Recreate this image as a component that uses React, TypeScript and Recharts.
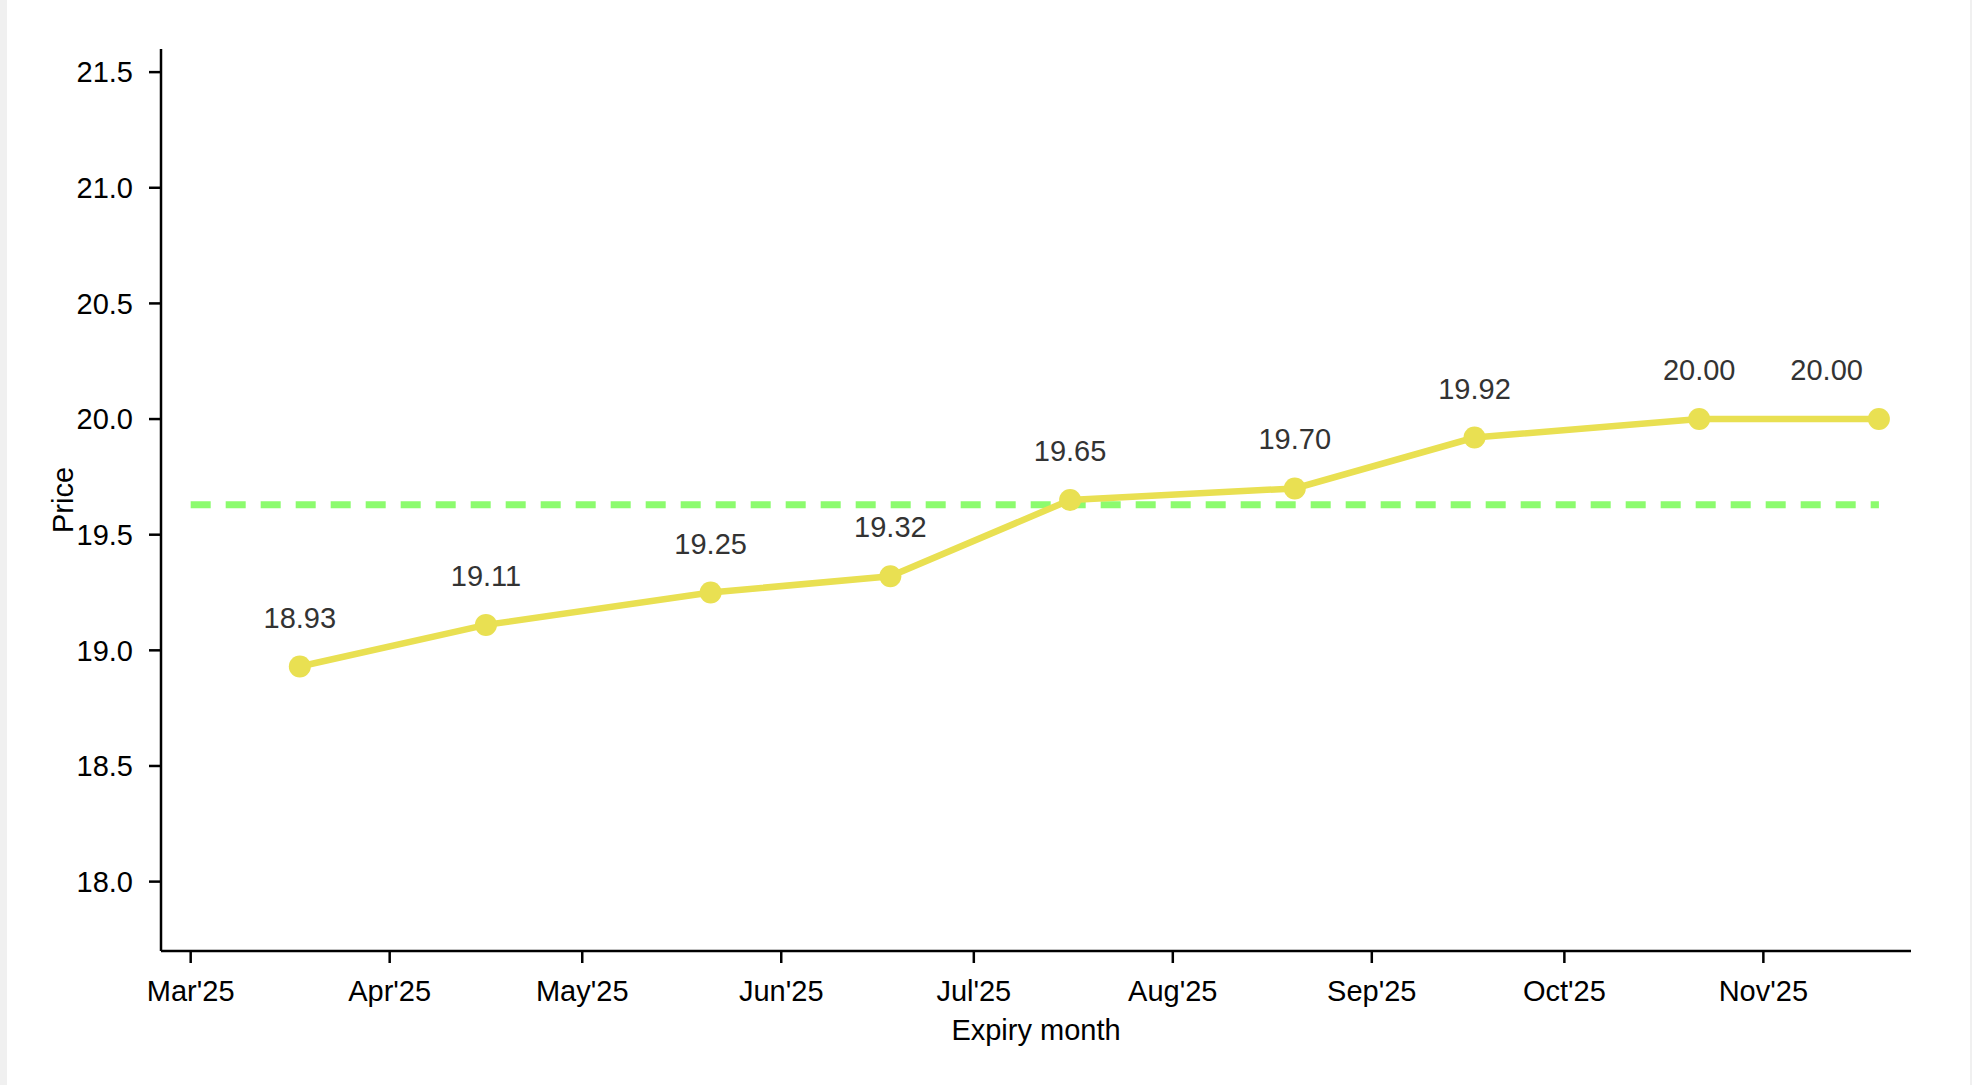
import React from 'react';
import {
  LineChart,
  Line,
  XAxis,
  YAxis,
  ReferenceLine,
  LabelList,
} from 'recharts';

// expiry dates and settlement prices
const expiryDates = [
  '2025-03-18', '2025-04-16', '2025-05-21', '2025-06-18', '2025-07-16',
  '2025-08-20', '2025-09-17', '2025-10-22', '2025-11-19',
];
const prices = [18.93, 19.11, 19.25, 19.32, 19.65, 19.7, 19.92, 20.0, 20.0];

const monthTicks = [
  '2025-03-01', '2025-04-01', '2025-05-01', '2025-06-01', '2025-07-01',
  '2025-08-01', '2025-09-01', '2025-10-01', '2025-11-01',
];
const monthLabels = ["Mar'25", "Apr'25", "May'25", "Jun'25", "Jul'25", "Aug'25", "Sep'25", "Oct'25", "Nov'25"];

const priceTicks = [18.0, 18.5, 19.0, 19.5, 20.0, 20.5, 21.0, 21.5];
const priceDomain = [17.7, 21.6];
const dateDomain = ['2025-02-24T09:00:00Z', '2025-11-24T00:00:00Z'];

// dashed reference level
const refLevel = 19.63;
const refStart = '2025-03-01';
const refEnd = '2025-11-19';

const ts = (s: string) => new Date(s.length === 10 ? s + 'T00:00:00Z' : s).getTime();

const data = expiryDates.map((d, i) => ({ date: ts(d), price: prices[i] }));
const xTicks = monthTicks.map(ts);

const FONT = '"Liberation Sans", Arial, sans-serif';
const YELLOW = '#e9e052';
const GREEN = '#8cfb6e';

const PointLabel = (props: any) => {
  const x = props.x ?? props.viewBox?.x;
  const y = props.y ?? props.viewBox?.y;
  const isLast = props.index === data.length - 1;
  return (
    <text
      x={isLast ? x - 16 : x}
      y={y - 39}
      textAnchor={isLast ? 'end' : 'middle'}
      fill="#333"
      fontSize={29}
      fontFamily={FONT}
    >
      {Number(props.value).toFixed(2)}
    </text>
  );
};

const PriceLabel = (props: any) => {
  const vb = props.viewBox || { x: 0, y: 49, width: 161, height: 902 };
  const cx = vb.x + 73;
  const cy = vb.y + vb.height / 2;
  return (
    <text
      x={cx}
      y={cy}
      transform={`rotate(-90 ${cx} ${cy})`}
      textAnchor="middle"
      fill="#000"
      fontSize={29}
      fontFamily={FONT}
    >
      Price
    </text>
  );
};

export default function App() {
  return (
    <div style={{ position: 'absolute', left: 0, top: 0, width: 1972, height: 1085, background: '#fff' }}>
      <div style={{ position: 'absolute', left: 0, top: 0, width: 7, height: 1085, background: '#f0f0f0' }} />
      <div style={{ position: 'absolute', left: 1970, top: 0, width: 2, height: 1085, background: '#f0f0f0' }} />
      <LineChart
        width={1972}
        height={1085}
        data={data}
        margin={{ top: 49, right: 61, left: 0, bottom: 0 }}
      >
        <XAxis
          dataKey="date"
          type="number"
          domain={dateDomain.map(ts)}
          allowDataOverflow
          ticks={xTicks}
          tickFormatter={(v: number) => monthLabels[xTicks.indexOf(v)] ?? ''}
          height={134}
          stroke="#000"
          strokeWidth={2.5}
          tickSize={12}
          tickMargin={17}
          tick={{ fill: '#000', fontSize: 29, fontFamily: FONT }}
          label={{ value: 'Expiry month', position: 'insideBottom', offset: 45, fill: '#000', fontSize: 29, fontFamily: FONT }}
        />
        <YAxis
          type="number"
          domain={priceDomain}
          allowDataOverflow
          ticks={priceTicks}
          tickFormatter={(v: number) => v.toFixed(1)}
          width={161}
          stroke="#000"
          strokeWidth={2.5}
          tickSize={12}
          tickMargin={16}
          tick={{ fill: '#000', fontSize: 29, fontFamily: FONT }}
          label={<PriceLabel />}
        />
        <ReferenceLine
          segment={[
            { x: ts(refStart), y: refLevel },
            { x: ts(refEnd), y: refLevel },
          ]}
          stroke={GREEN}
          strokeWidth={7}
          strokeDasharray="20 15"
        />
        <Line
          type="linear"
          dataKey="price"
          stroke={YELLOW}
          strokeWidth={6.5}
          dot={{ r: 11, fill: YELLOW, stroke: YELLOW, strokeWidth: 0 }}
          activeDot={false}
          isAnimationActive={false}
        >
          <LabelList dataKey="price" content={<PointLabel />} />
        </Line>
      </LineChart>
    </div>
  );
}
